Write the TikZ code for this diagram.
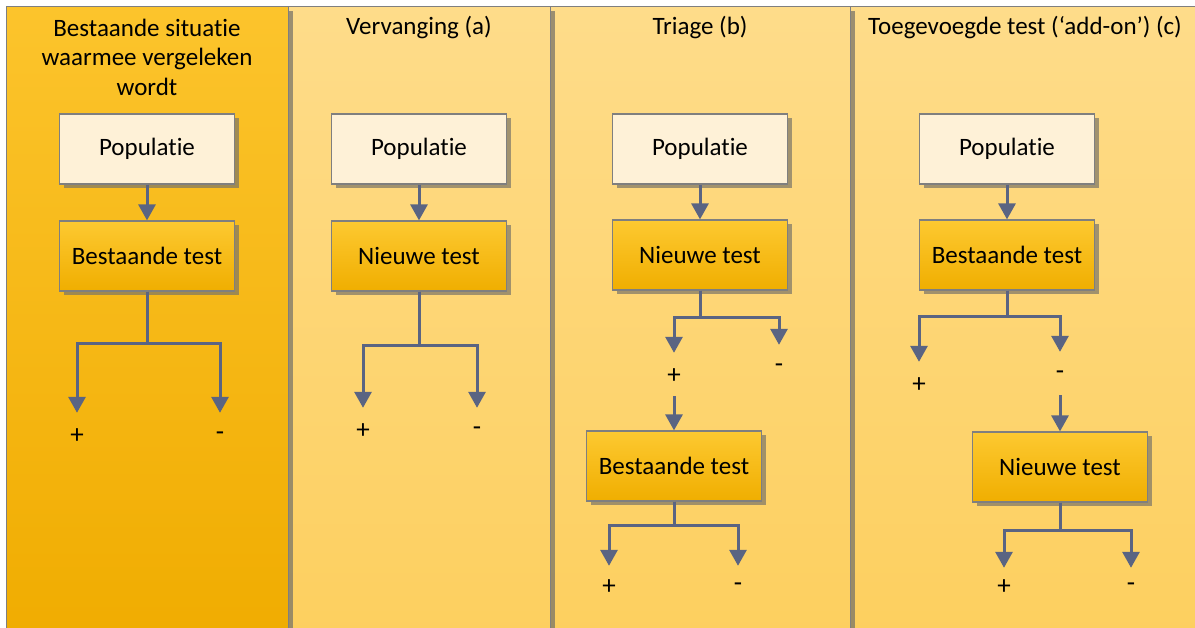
\documentclass[tikz,border=0pt]{standalone}
\usepackage{fontspec}
\setmainfont{Carlito}[Ligatures=NoCommon]
\usetikzlibrary{arrows.meta,shadows}

\definecolor{darktop}{HTML}{FCC42C}
\definecolor{darkbottom}{HTML}{F0AC00}
\definecolor{lighttop}{HTML}{FEDC8A}
\definecolor{lightbottom}{HTML}{FDCF5E}
\definecolor{popfill}{HTML}{FEF1D7}
\definecolor{testtop}{HTML}{FDC931}
\definecolor{testbottom}{HTML}{F0AE00}
\definecolor{edgegray}{HTML}{7F7F7F}
\definecolor{flowgray}{HTML}{5A6482}
\definecolor{shadowgray}{HTML}{7A7568}

\begin{document}
\begin{tikzpicture}[
    x=1pt, y=1pt,
    panel/.style={
        draw=edgegray, line width=1.2pt, anchor=north west,
        minimum height=640pt, inner sep=0pt,
        drop shadow={shadow xshift=4pt, shadow yshift=-4pt, fill=shadowgray, opacity=0.75}
    },
    darkpanel/.style={panel, top color=darktop, bottom color=darkbottom},
    lightpanel/.style={panel, top color=lighttop, bottom color=lightbottom},
    coltitle/.style={
        font=\fontsize{25}{29.5}\selectfont, align=center, inner sep=0pt
    },
    popbox/.style={
        draw=edgegray, fill=popfill, line width=1.2pt,
        minimum width=175pt, minimum height=70pt,
        font=\fontsize{25}{30}\selectfont,
        drop shadow={shadow xshift=4pt, shadow yshift=-4pt, fill=shadowgray, opacity=0.7}
    },
    testbox/.style={
        draw=edgegray, top color=testtop, bottom color=testbottom, line width=1.2pt,
        minimum width=175pt, minimum height=70pt,
        font=\fontsize{25}{30}\selectfont,
        drop shadow={shadow xshift=4pt, shadow yshift=-4pt, fill=shadowgray, opacity=0.7}
    },
    sign/.style={
        font=\fontsize{27}{30}\selectfont, inner sep=0pt, minimum height=30pt
    },
    flowline/.style={
        draw=flowgray, line width=3pt, -{Triangle[width=17pt,length=16pt]}
    }
]
\useasboundingbox (0,0) rectangle (1195,-628);

% Column panels (drawn right to left so each shadow falls on its neighbour)
\node[lightpanel, minimum width=350pt] (col4) at (850,-6) {};
\node[lightpanel, minimum width=300pt] (col3) at (550,-6) {};
\node[lightpanel, minimum width=262pt] (col2) at (288,-6) {};
\node[darkpanel,  minimum width=282pt] (col1) at (6,-6) {};

% Column titles
\node[coltitle] (title1) at (147,-57)  {Bestaande situatie\\waarmee vergeleken\\wordt};
\node[coltitle] (title2) at (419,-28)  {Vervanging (a)};
\node[coltitle] (title3) at (700,-28)  {Triage (b)};
\node[coltitle] (title4) at (1025,-28) {Toegevoegde test (‘add-on’) (c)};

% Bestaande situatie
\node[popbox]  (pop1)  at (147,-149) {Populatie};
\node[testbox] (test1) at (147,-256) {Bestaande test};
\node[sign]    (plus1) at (77,-436)  {+};
\node[sign]    (min1)  at (220,-436) {-};

% Vervanging (a)
\node[popbox]  (pop2)  at (419,-149) {Populatie};
\node[testbox] (test2) at (419,-256) {Nieuwe test};
\node[sign]    (plus2) at (363,-431) {+};
\node[sign]    (min2)  at (477,-431) {-};

% Triage (b)
\node[popbox]  (pop3)   at (700,-149) {Populatie};
\node[testbox] (test3)  at (700,-255) {Nieuwe test};
\node[sign]    (plus3)  at (674,-376) {+};
\node[sign]    (min3)   at (779,-368) {-};
\node[testbox] (test3b) at (674,-466) {Bestaande test};
\node[sign]    (plus3b) at (609,-587) {+};
\node[sign]    (min3b)  at (738,-587) {-};

% Toegevoegde test (c)
\node[popbox]  (pop4)   at (1007,-149) {Populatie};
\node[testbox] (test4)  at (1007,-255) {Bestaande test};
\node[sign]    (plus4)  at (919,-385)  {+};
\node[sign]    (min4)   at (1060,-375) {-};
\node[testbox] (test4b) at (1060,-467) {Nieuwe test};
\node[sign]    (plus4b) at (1004,-587) {+};
\node[sign]    (min4b)  at (1131,-587) {-};

% Arrows
\draw[flowline] (pop1) -- (test1);
\draw[flowline, shorten >=8pt] (test1.south) -- ++(0,-52) -| (plus1.north);
\draw[flowline, shorten >=8pt] (test1.south) -- ++(0,-52) -| (min1.north);

\draw[flowline] (pop2) -- (test2);
\draw[flowline, shorten >=8pt] (test2.south) -- ++(0,-54) -| (plus2.north);
\draw[flowline, shorten >=8pt] (test2.south) -- ++(0,-54) -| (min2.north);

\draw[flowline] (pop3) -- (test3);
\draw[flowline, shorten >=8pt] (test3.south) -- ++(0,-27) -| (plus3.north);
\draw[flowline, shorten >=8pt] (test3.south) -- ++(0,-27) -| (min3.north);
\draw[flowline, shorten <=5pt] (plus3.south) -- (test3b.north);
\draw[flowline, shorten >=6pt] (test3b.south) -- ++(0,-24) -| (plus3b.north);
\draw[flowline, shorten >=6pt] (test3b.south) -- ++(0,-24) -| (min3b.north);

\draw[flowline] (pop4) -- (test4);
\draw[flowline, shorten >=8pt] (test4.south) -- ++(0,-26) -| (plus4.north);
\draw[flowline, shorten >=8pt] (test4.south) -- ++(0,-26) -| (min4.north);
\draw[flowline, shorten <=5pt] (min4.south) -- (test4b.north);
\draw[flowline, shorten >=4pt] (test4b.south) -- ++(0,-28) -| (plus4b.north);
\draw[flowline, shorten >=4pt] (test4b.south) -- ++(0,-28) -| (min4b.north);

\end{tikzpicture}
\end{document}
